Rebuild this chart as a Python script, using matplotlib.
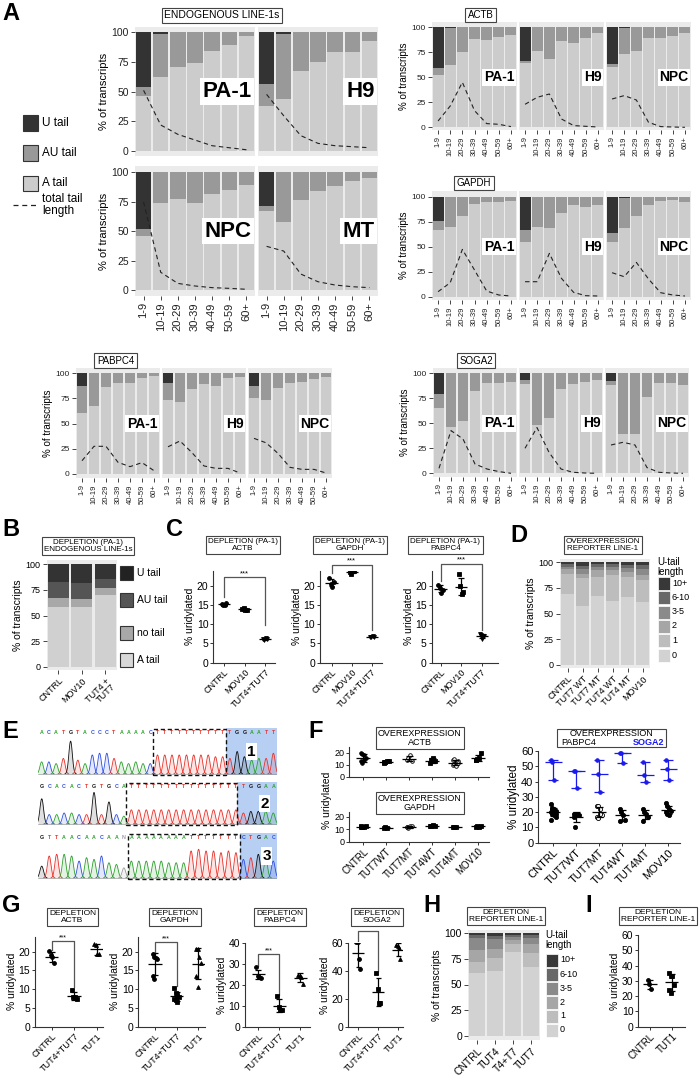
import matplotlib
matplotlib.use('Agg')
import matplotlib.pyplot as plt
import numpy as np
from matplotlib.patches import Rectangle
from matplotlib.lines import Line2D

plt.rcParams['font.family'] = ['Liberation Sans', 'DejaVu Sans']

# ---------------- data ----------------
BINS = ['1-9', '10-19', '20-29', '30-39', '40-49', '50-59', '60+']
CELLS_ENDO = ['PA-1', 'H9', 'NPC', 'MT']
CELLS3 = ['PA-1', 'H9', 'NPC']

# cumulative tops (% of transcripts): A tail top, AU tail top (U tail fills to 100); total tail length line
endo_A_top = [[46.5, 62.5, 71, 74.4, 84, 89, 97],
              [38, 43.7, 67.6, 75, 83, 83.7, 93],
              [45.6, 73.8, 77.5, 74, 81.7, 84.5, 88.7],
              [67, 58, 76.6, 83.7, 87.9, 92, 94.5]]
endo_AU_top = [[54, 98.6, 100, 100, 100, 100, 100],
               [56, 98.6, 100, 100, 100, 100, 100],
               [52.1, 100, 100, 100, 100, 100, 100],
               [71.5, 100, 100, 100, 100, 100, 100]]
endo_len = [[51, 21.7, 13.8, 9, 4.2, 2.5, 0.8],
            [47.6, 29.5, 12.7, 6.2, 4.2, 3.4, 2.5],
            [74.6, 15, 5.6, 3.4, 2, 1.4, 0.6],
            [37, 33, 13.5, 7, 4.2, 2.8, 2]]

actb_A_top = [[52, 62, 75, 88.3, 87.3, 90.7, 92],
              [64.7, 76, 68.7, 86, 84, 89.7, 94],
              [60, 73.7, 76.7, 89.7, 89.7, 91.3, 94]]
actb_AU_top = [[59.7, 99.5, 100, 100, 100, 100, 100],
               [66.7, 100, 100, 100, 100, 100, 100],
               [63, 99, 100, 100, 100, 100, 100]]
actb_len = [[6.3, 21.3, 45, 16.7, 3.7, 3, 0.7],
            [23, 30, 33.3, 8.3, 1.7, 1, 0.3],
            [28.3, 31.7, 27.3, 5, 0.7, 0.3, 0]]

gapdh_A_top = [[66.7, 70, 81, 92.3, 94.7, 94.7, 95.7],
               [55, 69.3, 68.3, 84, 91.3, 90, 91.7],
               [54.3, 68.3, 81, 91.7, 95.7, 96.7, 95]]
gapdh_AU_top = [[75.7, 100, 100, 100, 100, 100, 100],
                [66.7, 100, 100, 100, 100, 100, 100],
                [64, 99, 100, 100, 100, 100, 100]]
gapdh_len = [[5, 14, 47.3, 26.7, 5.7, 1.7, 0.7],
             [15, 15, 43.3, 18.3, 4.3, 1, 0.7],
             [24, 20, 34.3, 17.7, 4, 1.7, 0.7]]

pabpc4_A_top = [[60.3, 67.5, 86, 90.7, 90, 95.4, 97.4],
                [73.5, 71.5, 84, 89.4, 87.4, 95, 96],
                [75, 73.5, 85.8, 90, 91, 94.4, 96]]
pabpc4_AU_top = [[87.7, 100, 100, 100, 100, 100, 100],
                 [90, 100, 100, 100, 100, 100, 100],
                 [87.7, 100, 100, 100, 100, 100, 100]]
pabpc4_len = [[13.2, 27.5, 27.5, 11.6, 7.3, 11.3, 3.3],
              [27, 32.8, 21.2, 8, 5.6, 5.6, 1],
              [35.4, 31, 20.5, 6.6, 4.6, 4.6, 1]]

soga2_A_top = [[65.3, 46.7, 52.7, 82.7, 90, 90.7, 91.7],
               [89.3, 48, 55, 84.3, 89, 91.3, 93.3],
               [88.3, 39, 39, 76, 90.7, 90, 88.3]]
soga2_AU_top = [[79.3, 100, 100, 100, 100, 100, 100],
                [93.3, 100, 100, 100, 100, 100, 100],
                [92.7, 100, 100, 100, 100, 100, 100]]
soga2_len = [[5, 42.7, 34.3, 9.3, 4.3, 1.7, 0],
             [25, 45.7, 21, 4.3, 1, 0.3, 0],
             [28.3, 31, 28.3, 5.7, 1, 0.3, 0]]

# Panel B (cumulative tops)
B_samples = ['CNTRL', 'MOV10', 'TUT4 +\nTUT7']
B_A_top = [58.6, 58, 70]
B_no_top = [66.8, 66, 76.5]
B_AU_top = [83, 82, 85.3]

# Panel C
C_groups = ['CNTRL', 'MOV10', 'TUT4+TUT7']
C_actb = [[15.3, 15.0, 14.9, 15.6], [13.9, 14.2, 13.6, 13.7], [6.2, 6.0, 6.4, 6.1]]
C_gapdh = [[22.0, 20.5, 19.8, 21.0], [23.5, 23.2, 24.0, 23.8], [6.8, 6.7, 7.0, 6.6]]
C_pabpc4 = [[20.3, 19.5, 18.2, 18.8], [23.0, 20.0, 18.0, 18.3], [7.5, 7.3, 6.2, 7.0]]

# Panel D (cumulative tops of U-tail length classes)
D_samples = ['CNTRL', 'TUT7 WT', 'TUT7 MT', 'TUT4 WT', 'TUT4 MT', 'MOV10']
ULEN = ['0', '1', '2', '3-5', '6-10', '10+']
D_top0 = [69, 57.5, 67, 62.7, 66.6, 61.7]
D_top1 = [89, 84.4, 86, 87.7, 85.4, 82.8]
D_top2 = [93, 89, 92.5, 92.5, 91, 87.7]
D_top35 = [95.8, 93, 95.8, 95.8, 94.8, 93]
D_top610 = [98, 96.4, 98, 98, 97.4, 97.4]

# Panel E (Sanger traces)
E_seq1 = 'ACATGTACCCTAAAAC' + 'TTTTTTTTTT' + 'TGGAATT'
E_h1 = [0.35, 0.35, 0.3, 0.45, 0.95, 0.4, 0.3, 0.55, 0.6, 0.6, 0.45, 0.35, 0.3, 0.35, 0.3, 0.3,
        0.55, 0.55, 0.55, 0.55, 0.55, 0.55, 0.55, 0.55, 0.5, 0.5,
        0.45, 0.65, 0.5, 0.4, 0.45, 0.45, 0.6]
E_seq2 = 'GCACACTGTGCA' + 'TTTTTTTTTTTTTTT' + 'TGGAA'
E_h2 = [0.8, 0.3, 0.3, 0.35, 0.35, 0.3, 0.3, 1.0, 0.3, 0.7, 0.3, 0.25,
        0.45, 0.45, 0.45, 0.45, 0.45, 0.45, 0.45, 0.45, 0.45, 0.45, 0.45, 0.45, 0.45, 0.45, 0.45,
        0.35, 0.4, 0.4, 0.4, 0.35]
E_seq3 = 'GTTAACAACAAN' + 'AAAAAAAA' + 'TTTTTTT' + 'CTGAC'
E_h3 = [0.35, 0.65, 0.7, 0.7, 0.65, 0.5, 0.6, 0.55, 0.65, 0.45, 0.4, 0.3,
        0.5, 0.5, 0.5, 0.5, 0.5, 0.45, 0.45, 0.45,
        0.8, 0.85, 0.8, 0.8, 0.75, 0.8, 0.75,
        0.55, 0.6, 0.7, 0.55, 0.5]

# Panel F
F_groups = ['CNTRL', 'TUT7WT', 'TUT7MT', 'TUT4WT', 'TUT4MT', 'MOV10']
F_actb = [[20, 19, 18, 16, 13, 12, 14], [12, 12.5, 13, 13.5, 12.8, 12.2], [14, 16, 18, 13],
          [12, 14, 16, 13], [10, 11, 12, 13, 14, 15, 9, 12], [14, 15, 16, 20, 14]]
F_gapdh = [[12.5, 12, 11.5, 13, 12], [11, 11.5, 11.2], [12, 11, 13, 12.5, 11.5],
           [13, 12.5, 13.2, 12.8], [12, 12.2, 11.8], [12, 13, 11.5, 12.5]]
F_pabpc4 = [[25, 23, 22, 21, 20, 19, 18, 17, 15, 22, 20, 19], [19, 18, 19, 18, 17, 10.5],
            [24, 24, 22, 18, 17, 16, 19], [22, 20, 18, 15, 14], [22, 20, 19, 17, 14],
            [26, 24, 22, 21, 20, 19, 18]]
F_soga2 = [[54, 53, 41], [47, 47, 36], [54, 45, 33], [59, 59, 52], [53, 44, 40], [54, 48, 41]]

# Panel G
G_groups = ['CNTRL', 'TUT4+TUT7', 'TUT1']
G_actb = [[20.2, 19.0, 18.5, 17.0], [9.8, 8.0, 7.8, 7.5], [22.0, 21.8, 19.5, 19.3]]
G_gapdh = [[19.5, 18.5, 18.3, 18.0, 13.5, 12.8], [10.2, 9.0, 8.5, 8.0, 7.5, 7.0, 6.5],
           [20.8, 20.8, 18.5, 17.0, 13.5, 10.5]]
G_pabpc4 = [[28.5, 24.5, 24.0, 23.5], [14.5, 9.5, 8.0, 8.0], [25.0, 24.5, 24.0, 20.5]]
G_soga2 = [[61.2, 61.2, 48.5, 41.3], [38.8, 26.9, 17.3, 17.3], [58.8, 58.0, 56.3, 48.4]]

# Panel H
H_samples = ['CNTRL', 'TUT4', 'T4+T7', 'TUT7']
H_top0 = [61, 63.5, 82, 67.4]
H_top1 = [72.3, 75.6, 90, 81]
H_top2 = [83.7, 85, 93.5, 90]
H_top35 = [95.8, 94, 96, 95.5]
H_top610 = [98, 97.5, 98, 98]

# Panel I
I_groups = ['CNTRL', 'TUT1']
I_vals = [[30.5, 28, 24.5], [35, 33, 33, 27, 24, 22]]

# ---------------- styling ----------------
C_U, C_AU, C_A, BG = '#333333', '#999999', '#cccccc', '#ebebeb'
ULEN_COL = ['#d2d2d2', '#bdbdbd', '#a6a6a6', '#8a8a8a', '#686868', '#383838']
BASE_COL = {'A': '#2ca02c', 'C': '#2f4fe0', 'G': '#111111', 'T': '#e8312a', 'N': '#999999'}

W, H = 700, 1079
fig = plt.figure(figsize=(W / 100, H / 100), dpi=100)


def ax_px(x0, y0, x1, y1):
    return fig.add_axes([x0 / W, 1 - y1 / H, (x1 - x0) / W, (y1 - y0) / H])


def ftext(x, y, s, **kw):
    return fig.text(x / W, 1 - y / H, s, **kw)


def title_box(x, y, s, fs=6.5):
    ftext(x, y, s, ha='center', va='center', fontsize=fs, linespacing=1.0,
          bbox=dict(boxstyle='square,pad=0.25', fc='white', ec='#444444', lw=0.8))


def letter(x, y, s):
    ftext(x, y, s, fontsize=17, fontweight='bold', ha='left', va='center')


def facet(x0, x1, ybg0, ybg1, y100, y0, A_top, AU_top, ln, label, lab_fs,
          show_y, show_x, tick_fs, xfs):
    ax = ax_px(x0, ybg0, x1, ybg1)
    ppu = (y0 - y100) / 100.0
    ax.set_ylim(-(ybg1 - y0) / ppu, 100 + (y100 - ybg0) / ppu)
    ax.set_xlim(0.5, 7.5)
    ax.set_facecolor(BG)
    x = np.arange(1, 8)
    A = np.array(A_top, float)
    AUt = np.array(AU_top, float)
    ax.bar(x, A, 0.9, color=C_A, lw=0)
    ax.bar(x, AUt - A, 0.9, bottom=A, color=C_AU, lw=0)
    ax.bar(x, 100 - AUt, 0.9, bottom=AUt, color=C_U, lw=0)
    ax.plot(x, ln, color='#222222', lw=0.8, ls=(0, (4, 3)))
    for s in ax.spines.values():
        s.set_visible(False)
    ax.set_yticks([0, 25, 50, 75, 100])
    ax.tick_params(axis='both', length=3, width=0.7, color='#444444', pad=1.5)
    if show_y:
        ax.tick_params(axis='y', labelsize=tick_fs, labelcolor='#222222')
    else:
        ax.tick_params(axis='y', length=0, labelleft=False)
    ax.set_xticks(x)
    if show_x:
        ax.set_xticklabels(BINS, rotation=90, fontsize=xfs, color='#222222')
    else:
        ax.tick_params(axis='x', length=0, labelbottom=False)
    ax.text(7.3, 50, label, ha='right', va='center', fontsize=lab_fs, fontweight='bold',
            bbox=dict(boxstyle='square,pad=0.12', fc='white', ec='none'))
    return ax


# ---------------- Panel A ----------------
letter(2, 14, 'A')
title_box(222, 15.5, 'ENDOGENOUS LINE-1s', fs=7.5)
cols_main = [(135, 255), (258, 378)]
rows_main = [(27, 156, 32.3, 150.7), (166, 296, 172, 290)]
for k in range(4):
    r, c = divmod(k, 2)
    yb0, yb1, y100, y0 = rows_main[r]
    ax = facet(cols_main[c][0], cols_main[c][1], yb0, yb1, y100, y0,
               endo_A_top[k], endo_AU_top[k], endo_len[k], CELLS_ENDO[k], 16,
               c == 0, r == 1, 7.5, 8)
    if c == 0:
        ax.set_ylabel('% of transcripts', fontsize=8, labelpad=2)

# legend A
for yy, col, lab in [(123, C_U, 'U tail'), (153, C_AU, 'AU tail'), (183, C_A, 'A tail')]:
    fig.patches.append(Rectangle((23 / W, 1 - (yy + 7.5) / H), 15 / W, 15 / H, transform=fig.transFigure,
                                 fc=col, ec='#333333', lw=0.8))
    ftext(42, yy, lab, fontsize=8.5, va='center')
fig.lines.append(Line2D([13 / W, 38 / W], [1 - 205 / H, 1 - 205 / H], transform=fig.transFigure,
                        color='#222222', lw=0.9, ls=(0, (4, 3))))
ftext(42, 205, 'total tail\nlength', fontsize=8.5, va='center', linespacing=0.95)

small_sets = [
    ('ACTB', actb_A_top, actb_AU_top, actb_len, [(432, 517), (519, 604), (606, 691)], (22, 130, 27.3, 127.3), (480.5, 15)),
    ('GAPDH', gapdh_A_top, gapdh_AU_top, gapdh_len, [(432, 517), (519, 604), (606, 691)], (191, 300, 196.7, 296.7), (474, 183)),
    ('PABPC4', pabpc4_A_top, pabpc4_AU_top, pabpc4_len, [(76, 160), (162, 246), (248, 332)], (368, 478, 373.3, 474), (115.5, 360.7)),
    ('SOGA2', soga2_A_top, soga2_AU_top, soga2_len, [(433, 517), (519, 603), (605, 689)], (368, 477, 373.3, 473.3), (476, 360.7)),
]
for name, At, AUt, ln, cols, rowy, tpos in small_sets:
    title_box(tpos[0], tpos[1], name, fs=7)
    for j in range(3):
        ax = facet(cols[j][0], cols[j][1], rowy[0], rowy[1], rowy[2], rowy[3],
                   At[j], AUt[j], ln[j], CELLS3[j], 10, j == 0, True, 6, 5.5)
        if j == 0:
            ax.set_ylabel('% of transcripts', fontsize=7, labelpad=2)

# ---------------- Panel B ----------------
letter(2, 530, 'B')
title_box(88, 546, 'DEPLETION (PA-1)\nENDOGENOUS LINE-1s', fs=5.8)
axB = ax_px(46.7, 560, 116.7, 670)
ppu = (666.7 - 564.3) / 100
axB.set_ylim(-(670 - 666.7) / ppu, 100 + (564.3 - 560) / ppu)
axB.set_xlim(0.5, 3.5)
axB.set_facecolor(BG)
xb = np.arange(1, 4)
bA, bN, bAU = np.array(B_A_top), np.array(B_no_top), np.array(B_AU_top)
axB.bar(xb, bA, 0.9, color='#d0d0d0', lw=0)
axB.bar(xb, bN - bA, 0.9, bottom=bA, color='#a8a8a8', lw=0)
axB.bar(xb, bAU - bN, 0.9, bottom=bN, color='#555555', lw=0)
axB.bar(xb, 100 - bAU, 0.9, bottom=bAU, color='#333333', lw=0)
for s in axB.spines.values():
    s.set_visible(False)
axB.set_yticks([0, 25, 50, 75, 100])
axB.set_xticks(xb)
axB.set_xticklabels(B_samples, rotation=45, ha='right', rotation_mode='anchor', fontsize=6.5, linespacing=0.9)
axB.tick_params(length=3, width=0.7, color='#444444', labelsize=6.5, pad=1.5)
axB.set_ylabel('% of transcripts', fontsize=7.5, labelpad=2)
for yy, col, lab in [(573, '#222222', 'U tail'), (600, '#555555', 'AU tail'), (633, '#a8a8a8', 'no tail'), (660, '#d8d8d8', 'A tail')]:
    fig.patches.append(Rectangle((120 / W, 1 - (yy + 7) / H), 13 / W, 14 / H, transform=fig.transFigure,
                                 fc=col, ec='#333333', lw=0.8))
    ftext(137, yy, lab, fontsize=7.5, va='center')


# ---------------- dot plot helpers ----------------
def dot_axes(left, right, top, bottom, first, spacing, ymax, yticks, tick_fs=7):
    ax = ax_px(left, top, right, bottom)
    ax.set_xlim((left - first) / spacing, (right - first) / spacing)
    ax.set_ylim(0, ymax)
    ax.spines['top'].set_visible(False)
    ax.spines['right'].set_visible(False)
    for s in ['left', 'bottom']:
        ax.spines[s].set_linewidth(0.8)
        ax.spines[s].set_color('#333333')
    ax.set_yticks(yticks)
    ax.tick_params(length=2.5, width=0.7, labelsize=tick_fs, pad=1, color='#333333')
    ax.set_facecolor('none')
    return ax


def scatter_groups(ax, data, markers, color='black', hollow=(), summary='sd', ms=2.8, wl=0.28, wc=0.12, lw=0.9):
    for i, vals in enumerate(data):
        v = np.asarray(vals, float)
        n = len(v)
        offs = (np.arange(n) % 4 - 1.5) * 0.07
        mfc = 'white' if i in hollow else color
        ax.plot(i + offs, v, ls='none', marker=markers[i], ms=ms, color=color, mfc=mfc, mew=0.6, zorder=3)
        if summary == 'sd':
            m = v.mean(); lo = m - v.std(ddof=1); hi = m + v.std(ddof=1)
        else:
            m = np.median(v); lo = v.min(); hi = v.max()
        ax.hlines(m, i - wl, i + wl, color=color, lw=lw, zorder=4)
        ax.vlines(i, lo, hi, color=color, lw=lw, zorder=4)
        ax.hlines([lo, hi], i - wc, i + wc, color=color, lw=lw, zorder=4)


def bracket(ax, i0, i1, y0, y1, ytop, fs=5.5):
    ax.plot([i0, i0, i1, i1], [y0, ytop, ytop, y1], color='#555555', lw=0.9, clip_on=False)
    ax.text((i0 + i1) / 2, ytop, '***', ha='center', va='bottom', fontsize=fs, clip_on=False)


def set_groups(ax, groups, fs=6.5):
    ax.set_xticks(range(len(groups)))
    ax.set_xticklabels(groups, rotation=45, ha='right', rotation_mode='anchor', fontsize=fs)


# ---------------- Panel C ----------------
letter(166, 530, 'C')
C_specs = [(C_actb, 'ACTB', 213.3, 275, 224, 20.5, 243, 17.2, 9.7, 22.2),
           (C_gapdh, 'GAPDH', 320, 381.7, 331.5, 20.2, 350, 23.3, 8.5, 25.5),
           (C_pabpc4, 'PABPC4', 431.5, 498, 440.5, 20.6, 445.5, 21.3, 8.5, 25.8)]
for data, gname, l, r, f, sp, tx, yb0, yb1, yt in C_specs:
    title_box(tx, 545, 'DEPLETION (PA-1)\n' + gname, fs=5.8)
    ax = dot_axes(l, r, 570.5, 662.7, f, sp, 24, [0, 5, 10, 15, 20], tick_fs=7.5)
    scatter_groups(ax, data, ['o', 's', 'v'], wl=0.3, wc=0.14)
    set_groups(ax, C_groups)
    ax.set_ylabel('% uridylated', fontsize=7.5, labelpad=1)
    bracket(ax, 0, 2, yb0, yb1, yt)

# ---------------- Panel D ----------------
letter(510, 535, 'D')
title_box(603, 545, 'OVEREXPRESSION\nREPORTER LINE-1', fs=5.8)


def stack_ulen(ax, tops):
    n = len(tops[0])
    x = np.arange(1, n + 1)
    prev = np.zeros(n)
    for k, top in enumerate(tops + [[100] * n]):
        t = np.array(top, float)
        ax.bar(x, t - prev, 0.9, bottom=prev, color=ULEN_COL[k], lw=0)
        prev = t
    return x


axD = ax_px(560, 559, 650, 668)
ppu = (665 - 562.3) / 100
axD.set_ylim(-(668 - 665) / ppu, 100 + (562.3 - 559) / ppu)
axD.set_xlim(0.5, 6.5)
axD.set_facecolor(BG)
xd = stack_ulen(axD, [D_top0, D_top1, D_top2, D_top35, D_top610])
for s in axD.spines.values():
    s.set_visible(False)
axD.set_yticks([0, 25, 50, 75, 100])
axD.set_xticks(xd)
axD.set_xticklabels(D_samples, rotation=45, ha='right', rotation_mode='anchor', fontsize=6)
axD.tick_params(length=3, width=0.7, color='#444444', labelsize=6.5, pad=1.5)
axD.set_ylabel('% of transcripts', fontsize=7.5, labelpad=2)


def ulen_legend(x, ytitle, ys):
    ftext(x, ytitle, 'U-tail\nlength', fontsize=7, va='center', ha='left', linespacing=0.95)
    for k, yy in enumerate(ys):
        lab = ULEN[len(ULEN) - 1 - k]
        col = ULEN_COL[len(ULEN) - 1 - k]
        fig.patches.append(Rectangle(((x + 1) / W, 1 - (yy + 6.5) / H), 12 / W, 13 / H,
                                     transform=fig.transFigure, fc=col, ec='white', lw=0.5))
        ftext(x + 15, yy, lab, fontsize=6.5, va='center')


ulen_legend(657, 567, [583, 597.5, 612, 626, 640.5, 655])

# ---------------- Panel E ----------------
letter(2, 732, 'E')


def chromatogram(y0, y1, seq, heights, box, blue_from, label):
    ax = ax_px(38, y0, 277, y1)
    n = len(seq)
    ax.set_xlim(0, n)
    ax.set_ylim(-0.03, 1.33)
    ax.axis('off')
    ax.axvspan(blue_from, n, color='#b7cff3', lw=0, zorder=0)
    xs = np.linspace(0, n, n * 40)
    for i, (b, hgt) in enumerate(zip(seq, heights)):
        c = BASE_COL[b]
        yv = hgt * np.exp(-0.5 * ((xs - (i + 0.5)) / 0.24) ** 2)
        m = yv > 0.004
        ax.fill_between(xs[m], 0, yv[m], color=c, alpha=0.13, lw=0, zorder=1)
        ax.plot(xs[m], yv[m], color=c, lw=0.6, zorder=2)
        ax.text(i + 0.5, 1.2, b, color=c, fontsize=3.8, ha='center', va='center', fontweight='bold')
    ax.plot([0, n], [0, 0], color='#888888', lw=0.4)
    ax.add_patch(Rectangle((box[0], -0.02), box[1] - box[0], 1.33, fill=False, ls=(0, (3, 2)), lw=1.0, ec='#111111', zorder=5, clip_on=False))
    ax.text(blue_from + 3.6, 0.65, label, fontsize=11, fontweight='bold', ha='center', va='center', zorder=6,
            bbox=dict(boxstyle='square,pad=0.1', fc='white', ec='none'))


chromatogram(728, 775, E_seq1, E_h1, (15.9, 25.9), 25.9, '1')
chromatogram(782, 825, E_seq2, E_h2, (11.8, 26.7), 26.7, '2')
chromatogram(833, 879, E_seq3, E_h3, (12.0, 27.0), 27.0, '3')

# ---------------- Panel F ----------------
letter(308, 732, 'F')
title_box(420, 738, 'OVEREXPRESSION\nACTB', fs=6.5)
axF1 = dot_axes(349, 489, 747, 777, 363.3, 23, 25, [0, 10, 20], tick_fs=6.5)
scatter_groups(axF1, F_actb, ['o', 's', 'o', 's', 'o', 's'], hollow=(2, 4), ms=2.6, wl=0.3, wc=0.14)
axF1.set_xticks(range(6))
axF1.tick_params(axis='x', labelbottom=False)
title_box(420, 803, 'OVEREXPRESSION\nGAPDH', fs=6.5)
axF2 = dot_axes(349, 489, 812, 841.5, 363.3, 23, 24, [0, 10, 20], tick_fs=6.5)
scatter_groups(axF2, F_gapdh, ['s', 's', 'o', 's', 's', 's'], hollow=(2,), ms=2.6, wl=0.3, wc=0.14)
set_groups(axF2, F_groups, fs=7)
ftext(327, 800, '% uridylated', rotation=90, fontsize=7.5, ha='center', va='center')

# F3 title with coloured parts
fig.patches.append(Rectangle((556.7 / W, 1 - 747.3 / H), (666 - 556.7) / W, (747.3 - 729) / H,
                             transform=fig.transFigure, fc='white', ec='#444444', lw=0.8))
ftext(611, 734, 'OVEREXPRESSION', fontsize=6.5, ha='center', va='center')
ftext(561, 742.5, 'PABPC4', fontsize=6.5, ha='left', va='center')
ftext(664, 742.5, 'SOGA2', fontsize=6.5, ha='right', va='center', color='#1a1aee', fontweight='bold')
axF3 = dot_axes(538.3, 680, 751, 842.7, 553.3, 23, 60, [0, 10, 20, 30, 40, 50, 60], tick_fs=8)
scatter_groups(axF3, F_pabpc4, ['o'] * 6, hollow=(2,), ms=3, wl=0.3, wc=0.14)
scatter_groups(axF3, F_soga2, ['o'] * 6, color='#1a1aee', summary='range', ms=2.6, wl=0.36, wc=0.22)
set_groups(axF3, F_groups, fs=8)
axF3.set_ylabel('% uridylated', fontsize=8.5, labelpad=1)

# ---------------- Panel G ----------------
letter(2, 905, 'G')
G_specs = [(G_actb, 'ACTB', 35, 103.3, 51.7, 22.5, 72.5, 24, [0, 5, 10, 15, 20], 20.5, 10.5, 22.8),
           (G_gapdh, 'GAPDH', 138.3, 205, 155, 21.7, 175, 24, [0, 5, 10, 15, 20], 20, 10.8, 22.5),
           (G_pabpc4, 'PABPC4', 245, 310, 258.3, 21, 280, 40, [0, 10, 20, 30, 40], 29, 15, 34.8),
           (G_soga2, 'SOGA2', 348.3, 403, 358.3, 20, 377, 60, [0, 20, 40, 60], 62, 40, 69)]
for data, gname, l, r, f, sp, tx, ym, yt, b0, b1, btop in G_specs:
    title_box(tx, 917, 'DEPLETION\n' + gname, fs=6)
    top = 943.3 if ym >= 40 else 936.7
    ax = dot_axes(l, r, top, 1026.7, f, sp, ym, yt, tick_fs=7.5)
    scatter_groups(ax, data, ['o', 's', '^'], wl=0.3, wc=0.14)
    set_groups(ax, G_groups)
    ax.set_ylabel('% uridylated', fontsize=7.5, labelpad=1)
    bracket(ax, 0, 1, b0, b1, btop, fs=5)

# ---------------- Panel H ----------------
letter(423, 905, 'H')
title_box(506, 916, 'DEPLETION\nREPORTER LINE-1', fs=6)
axH = ax_px(468.3, 930, 540, 1040)
ppu = (1035.7 - 933.3) / 100
axH.set_ylim(-(1040 - 1035.7) / ppu, 100 + (933.3 - 930) / ppu)
axH.set_xlim(0.5, 4.5)
axH.set_facecolor(BG)
xh = stack_ulen(axH, [H_top0, H_top1, H_top2, H_top35, H_top610])
for s in axH.spines.values():
    s.set_visible(False)
axH.set_yticks([0, 25, 50, 75, 100])
axH.set_xticks(xh)
axH.set_xticklabels(H_samples, rotation=45, ha='right', rotation_mode='anchor', fontsize=7)
axH.tick_params(length=3, width=0.7, color='#444444', labelsize=7.5, pad=1.5)
axH.set_ylabel('% of transcripts', fontsize=7.5, labelpad=2)
ulen_legend(545, 940, [960, 974.3, 988.3, 1002.3, 1016, 1030])

# ---------------- Panel I ----------------
letter(585, 905, 'I')
title_box(658, 916, 'DEPLETION\nREPORTER LINE-1', fs=6)
axI = dot_axes(638.3, 685, 935, 1026.7, 650, 21.7, 60, [0, 10, 20, 30, 40, 50, 60], tick_fs=7.5)
scatter_groups(axI, I_vals, ['o', 's'], wl=0.3, wc=0.14)
set_groups(axI, I_groups, fs=7)
axI.set_ylabel('% uridylated', fontsize=7.5, labelpad=1)

fig.savefig('out.png', dpi=100)
